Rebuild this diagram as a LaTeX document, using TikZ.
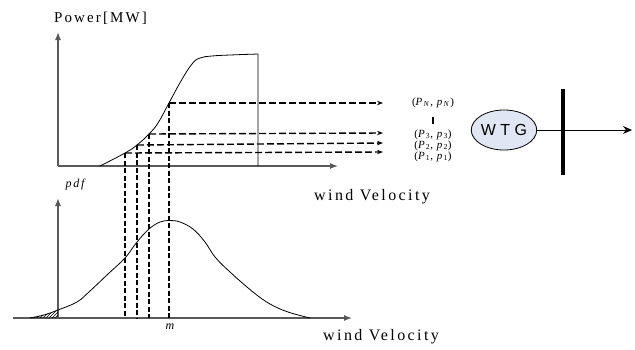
\documentclass[tikz,border=0pt]{standalone}
\usepackage{fontspec}
\setmainfont{Liberation Serif}
\newfontfamily\wtgfont{Liberation Sans}
\usetikzlibrary{arrows.meta,patterns,shapes.geometric}
\definecolor{wtgfill}{RGB}{225,230,245}
\begin{document}
\begin{tikzpicture}[x=1pt,y=-1pt,
  axis/.style={draw=black!65,line width=1.1pt,-{Latex[length=8pt,width=6pt]}},
  curve/.style={draw=black,line width=0.8pt},
  dashline/.style={draw=black,line width=1.4pt,dash pattern=on 5pt off 2.5pt},
  dasharrow/.style={draw=black,line width=1.4pt,dash pattern=on 7pt off 3pt,-{Stealth[length=6pt,width=4.5pt]}},
  lbl/.style={inner sep=0pt,text height=6.5pt,text depth=2pt,font=\fontsize{11}{12}\selectfont\addfontfeatures{LetterSpace=10}},
  axlbl/.style={inner sep=0pt,font=\fontsize{16}{17}\selectfont\addfontfeatures{LetterSpace=15}}]
\useasboundingbox (0,0) rectangle (635,349);
% top axes
\coordinate (o1) at (58,166);
\coordinate (y1) at (58,32);
\coordinate (x1) at (338,166);
\draw[axis] (o1) -- (y1);
\draw[axis] (o1) -- (x1);
\node[inner sep=0pt,anchor=west,font=\fontsize{15}{16}\selectfont\addfontfeatures{LetterSpace=14}] (plbl) at (54,18) {Power[MW]};
\node[axlbl,anchor=west] (wv1) at (314,197) {wind Velocity};
% power curve points
\coordinate (p1) at (125,153);
\coordinate (p2) at (137,145);
\coordinate (p3) at (149,134);
\coordinate (pN) at (169,103);
\coordinate (top) at (258,54);
\coordinate (cut) at (258,166);
\draw[curve] plot[smooth,tension=0.7] coordinates {(100,166) (p1) (p2) (p3) (158,123) (pN) (181,81) (192,64) (200,58) (212,56) (230,55) (top)} -- (cut);
% labels on right
\node[lbl] (lN) at (433,103) {(\textit{P}\textsubscript{\textit{N}}, \textit{p}\textsubscript{\textit{N}})};
\node[lbl] (l3) at (433,135) {(\textit{P}\textsubscript{3}, \textit{p}\textsubscript{3})};
\node[lbl] (l2) at (433,146) {(\textit{P}\textsubscript{2}, \textit{p}\textsubscript{2})};
\node[lbl] (l1) at (433,157) {(\textit{P}\textsubscript{1}, \textit{p}\textsubscript{1})};
\coordinate (dA) at (433,117);
\coordinate (dB) at (433,124);
\draw[line width=2.4pt] (dA) -- (dB);
\coordinate (aN) at (383,103);
\coordinate (a3) at (383,133);
\coordinate (a2) at (383,143);
\coordinate (a1) at (383,152);
\draw[dasharrow] (pN) -- (aN);
\draw[dasharrow] (p3) -- (a3);
\draw[dasharrow] (p2) -- (a2);
\draw[dasharrow] (p1) -- (a1);
% bottom axes
\coordinate (o2) at (58,318);
\coordinate (y2) at (58,198);
\coordinate (x0) at (13,318);
\coordinate (x2) at (352,318);
\draw[axis] (o2) -- (y2);
\draw[axis] (x0) -- (x2);
\node[inner sep=0pt,font=\fontsize{12}{13}\selectfont\itshape\addfontfeatures{LetterSpace=15}] (pdf) at (75,185) {pdf};
\node[inner sep=0pt,font=\fontsize{12}{13}\selectfont\itshape] (m) at (170,327) {m};
\node[axlbl,anchor=west] (wv2) at (323,337) {wind Velocity};
% vertical dashed lines
\coordinate (b1) at (125,318);
\coordinate (b2) at (137,318);
\coordinate (b3) at (149,318);
\coordinate (bN) at (169,318);
\draw[dashline] (p1) -- (b1);
\draw[dashline] (p2) -- (b2);
\draw[dashline] (p3) -- (b3);
\draw[dashline] (pN) -- (bN);
% bell curve
\fill[pattern=north east lines] (30,318) .. controls (40,316) and (50,313) .. (58,310) -- (58,318) -- cycle;
\draw[curve] plot[smooth,tension=0.6] coordinates {(30,318) (44,315) (58,310) (77,302) (90,291) (108,274) (125,258) (137,242) (149,229) (160,222) (170,220.5) (180,222) (193,229) (205,242) (215,257) (230,272) (253,292) (270,304) (288,312) (310,318)};
% WTG
\node[ellipse,draw=black,line width=0.8pt,fill=wtgfill,minimum width=65pt,minimum height=40pt,inner sep=0pt,font=\fontsize{16}{17}\selectfont\wtgfont\addfontfeatures{LetterSpace=28}] (wtg) at (504,130) {WTG};
\coordinate (bus1) at (563,89);
\coordinate (bus2) at (563,175);
\coordinate (out) at (632,130);
\draw[line width=3.5pt] (bus1) -- (bus2);
\draw[line width=1pt,-{Stealth[length=9pt,width=8pt]}] (wtg.east) -- (out);
\end{tikzpicture}
\end{document}
